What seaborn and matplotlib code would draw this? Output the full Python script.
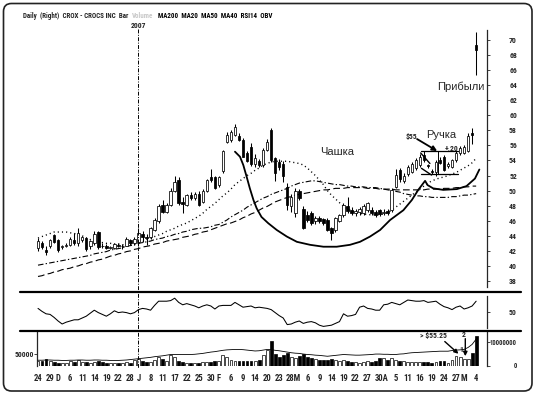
import numpy as np
import pandas as pd
import matplotlib
matplotlib.use("Agg")
import matplotlib.pyplot as plt
import seaborn as sns
from matplotlib import font_manager, transforms
from matplotlib.patches import FancyBboxPatch
from matplotlib.lines import Line2D

# ---------------- data ----------------
tick_labels = ["24", "29", "D", "6", "11", "14", "19", "22", "28", "J", "8", "11", "17", "22", "25",
               "30", "F", "6", "9", "14", "20", "23", "28M", "6", "9", "14", "19", "22", "27", "30A",
               "5", "11", "16", "19", "24", "27", "M", "4"]
tick_days = [0, 3, 5, 8, 11, 14, 17, 20, 23, 25, 28, 31, 34, 37, 40, 43, 45, 48, 51, 54, 57, 60, 63.5,
             67, 70, 73, 76, 79, 82, 85.5, 89, 92, 95, 98, 101, 104, 106, 109]

open_ = [42.4, 43.0, 42.1, 42.6, 44.1, 43.4, 42.5, 42.7, 42.8, 43.5,
         43.0, 43.5, 43.7, 42.6, 43.0, 44.5, 42.7, 42.6, 42.4, 42.4,
         42.8, 42.6, 42.7, 43.4, 43.0, 43.2, 44.3, 43.9, 43.8, 44.8,
         45.9, 48.1, 47.2, 48.1, 50.0, 51.4, 48.5, 48.1, 49.4, 49.0,
         49.6, 48.5, 50.0, 51.8, 51.8, 50.8, 52.6, 56.5, 56.7, 57.4,
         57.3, 56.7, 55.0, 55.8, 53.6, 53.9, 53.4, 55.4, 58.0, 54.3,
         53.8, 53.6, 50.5, 48.0, 47.0, 49.9, 47.6, 46.7, 47.0, 46.0,
         46.3, 46.2, 46.1, 45.0, 44.8, 46.0, 46.7, 47.9, 47.4, 47.0,
         47.1, 47.0, 47.4, 47.4, 47.1, 47.4, 47.0, 47.3, 47.4, 50.5,
         52.7, 51.3, 52.2, 52.5, 53.0, 53.4, 54.7, 53.4, 52.6, 52.5,
         54.0, 54.5, 53.3, 53.2, 54.0, 55.0, 55.0, 55.3, 57.6, 69.3]
high_ = [43.7, 43.3, 42.6, 43.6, 44.3, 43.6, 42.8, 43.0, 43.8, 44.4,
         45.0, 44.0, 43.9, 43.5, 44.6, 44.7, 43.0, 42.9, 42.6, 43.1,
         43.0, 42.9, 43.9, 43.6, 43.8, 45.0, 44.6, 44.2, 45.2, 46.3,
         48.2, 48.7, 48.3, 50.3, 52.0, 51.8, 49.2, 49.6, 49.8, 49.8,
         49.9, 50.2, 51.6, 52.9, 52.0, 52.0, 55.4, 57.8, 58.0, 58.8,
         57.6, 57.0, 55.3, 56.3, 54.8, 54.2, 55.6, 56.8, 58.3, 54.5,
         54.2, 53.9, 51.0, 49.5, 50.3, 50.2, 48.0, 47.3, 47.3, 46.6,
         46.6, 46.4, 46.4, 45.2, 46.5, 46.9, 48.3, 49.2, 47.8, 47.6,
         47.8, 48.2, 48.5, 47.8, 47.4, 47.6, 47.5, 47.6, 50.3, 52.9,
         53.0, 52.3, 53.4, 53.8, 54.3, 54.8, 55.2, 53.6, 52.9, 54.0,
         54.4, 54.7, 53.8, 54.2, 55.3, 55.9, 56.0, 57.6, 58.3, 71.1]
low_ = [42.0, 42.2, 41.5, 42.4, 43.0, 41.9, 42.2, 42.5, 42.6, 42.8,
        42.6, 43.2, 42.0, 42.3, 42.8, 42.3, 42.4, 42.2, 42.2, 42.2,
        42.5, 42.3, 42.6, 42.8, 42.8, 42.6, 43.2, 42.8, 43.6, 44.6,
        45.7, 47.0, 47.0, 47.9, 49.8, 48.1, 47.0, 47.9, 48.8, 48.8,
        47.9, 48.3, 49.8, 51.2, 50.2, 50.5, 52.4, 56.3, 56.5, 57.2,
        56.6, 54.4, 53.8, 53.3, 53.2, 53.1, 53.2, 55.2, 53.8, 51.3,
        52.8, 51.2, 47.4, 47.2, 46.5, 48.8, 44.9, 45.8, 45.5, 45.6,
        45.7, 45.4, 44.6, 43.5, 44.5, 45.8, 46.5, 47.0, 46.8, 46.6,
        46.8, 46.8, 47.2, 46.8, 46.5, 46.6, 46.7, 46.8, 47.2, 50.3,
        51.2, 51.0, 52.0, 52.3, 52.8, 53.2, 53.8, 53.0, 52.2, 52.0,
        53.5, 52.6, 53.0, 53.0, 53.8, 54.7, 54.8, 55.1, 56.2, 65.3]
close_ = [43.3, 42.5, 41.8, 43.4, 43.2, 42.1, 42.6, 42.8, 43.6, 43.0,
          44.4, 43.9, 42.2, 43.3, 44.3, 42.5, 42.6, 42.4, 42.5, 42.9,
          42.6, 42.7, 43.6, 43.0, 43.6, 44.4, 43.8, 43.7, 45.0, 46.1,
          47.9, 47.2, 48.1, 50.0, 51.2, 48.3, 48.2, 49.4, 49.0, 49.5,
          48.1, 50.0, 51.4, 51.4, 50.3, 51.8, 55.2, 57.4, 57.8, 58.5,
          56.7, 54.5, 53.9, 53.6, 54.3, 53.4, 55.4, 56.5, 54.1, 52.3,
          53.2, 51.9, 48.1, 49.2, 49.9, 49.0, 45.0, 46.1, 45.7, 46.3,
          45.9, 45.7, 44.8, 44.4, 46.3, 46.7, 48.1, 47.3, 47.0, 47.3,
          47.6, 47.9, 48.3, 47.0, 46.8, 46.9, 47.2, 47.0, 50.1, 52.1,
          51.6, 52.0, 53.2, 53.6, 54.1, 54.5, 54.0, 53.3, 52.5, 53.8,
          53.7, 52.7, 53.5, 54.0, 55.0, 55.6, 55.8, 57.3, 57.4, 68.7]

ma20 = [43.7, 43.9, 44.1, 44.3, 44.5, 44.5, 44.5, 44.5, 44.4, 44.3,
        44.2, 44.0, 43.7, 43.5, 43.3, 43.2, 43.1, 43.0, 43.0, 42.9,
        42.9, 42.8, 42.8, 42.9, 43.0, 43.0, 43.2, 43.5, 43.7, 43.9,
        44.1, 44.3, 44.6, 44.8, 45.0, 45.3, 45.5, 45.7, 46.0, 46.3,
        46.6, 47.0, 47.5, 47.9, 48.3, 48.8, 49.3, 49.7, 50.2, 50.8,
        51.2, 51.6, 52.0, 52.3, 52.7, 53.0, 53.4, 53.6, 53.8, 53.9,
        53.9, 53.9, 53.9, 53.8, 53.7, 53.6, 53.4, 53.0, 52.5, 52.0,
        51.4, 50.8, 50.0, 49.4, 48.9, 48.4, 47.9, 47.6, 47.3, 47.1,
        47.0, 46.9, 46.8, 46.8, 46.8, 46.8, 46.9, 47.1, 47.4, 47.8,
        48.2, 48.6, 49.0, 49.4, 49.8, 50.2, 50.6, 51.0, 51.3, 51.5,
        51.7, 51.8, 52.0, 52.2, 52.4, 52.7, 53.0, 53.3, 53.7, 54.3]
ma40 = [40.1, 40.2, 40.3, 40.4, 40.5, 40.6, 40.7, 40.8, 40.9, 41.0,
        41.1, 41.2, 41.3, 41.4, 41.6, 41.7, 41.8, 41.9, 42.1, 42.2,
        42.3, 42.4, 42.6, 42.7, 42.8, 43.0, 43.1, 43.2, 43.3, 43.5,
        43.6, 43.7, 43.9, 44.0, 44.2, 44.3, 44.5, 44.6, 44.8, 44.9,
        45.0, 45.0, 45.1, 45.2, 45.4, 45.5, 45.8, 46.1, 46.5, 46.8,
        47.1, 47.4, 47.8, 48.1, 48.4, 48.7, 49.0, 49.2, 49.5, 49.7,
        49.9, 50.1, 50.3, 50.6, 50.8, 51.0, 51.1, 51.2, 51.3, 51.3,
        51.2, 51.1, 51.0, 50.9, 50.8, 50.8, 50.7, 50.6, 50.6, 50.5,
        50.5, 50.5, 50.4, 50.4, 50.4, 50.3, 50.2, 50.1, 50.0, 49.9,
        49.8, 49.6, 49.5, 49.4, 49.3, 49.3, 49.2, 49.2, 49.1, 49.1,
        49.1, 49.1, 49.1, 49.2, 49.2, 49.3, 49.4, 49.4, 49.5, 49.6]
ma50 = [38.6, 38.7, 38.9, 39.0, 39.2, 39.3, 39.5, 39.6, 39.7, 39.9,
        40.0, 40.2, 40.3, 40.5, 40.6, 40.8, 40.9, 41.1, 41.3, 41.4,
        41.6, 41.7, 41.9, 42.0, 42.2, 42.3, 42.5, 42.6, 42.7, 42.9,
        43.0, 43.1, 43.3, 43.4, 43.5, 43.6, 43.8, 43.9, 44.0, 44.2,
        44.3, 44.5, 44.6, 44.8, 45.0, 45.2, 45.4, 45.6, 45.7, 45.9,
        46.1, 46.4, 46.6, 46.9, 47.1, 47.4, 47.7, 47.9, 48.2, 48.5,
        48.7, 48.9, 49.1, 49.2, 49.4, 49.5, 49.6, 49.7, 49.8, 49.9,
        50.0, 50.1, 50.1, 50.2, 50.3, 50.3, 50.3, 50.4, 50.4, 50.4,
        50.4, 50.4, 50.3, 50.3, 50.3, 50.2, 50.2, 50.2, 50.2, 50.1,
        50.1, 50.1, 50.1, 50.1, 50.1, 50.1, 50.1, 50.2, 50.2, 50.2,
        50.2, 50.3, 50.3, 50.3, 50.4, 50.4, 50.5, 50.5, 50.6, 50.6]

rsi14 = [56, 51, 47, 46, 41, 35, 30, 33, 35, 37,
         37, 40, 43, 48, 53, 49, 46, 43, 47, 52,
         49, 50, 49, 47, 49, 54, 56, 55, 53, 61,
         68, 68, 68, 69, 73, 66, 62, 64, 62, 60,
         57, 60, 62, 60, 55, 60, 61, 61, 61, 66,
         62, 58, 59, 60, 57, 58, 57, 56, 54, 49,
         44, 40, 29, 30, 33, 35, 31, 33, 34, 32,
         28, 26, 27, 28, 31, 34, 47, 43, 44, 46,
         58, 60, 56, 55, 53, 53, 62, 63, 66, 64,
         62, 66, 70, 69, 68, 68, 69, 66, 67, 68,
         63, 59, 57, 54, 58, 60, 55, 57, 60, 68]

vol_millions = [1.8, 2.0, 2.9, 2.0, 1.6, 1.2, 1.0, 1.1, 2.0, 1.5,
                2.2, 1.6, 1.3, 1.2, 1.6, 2.0, 1.4, 1.2, 1.0, 1.0,
                0.9, 1.0, 1.4, 1.2, 2.2, 2.9, 2.0, 1.6, 1.6, 2.4,
                3.5, 2.8, 2.0, 4.2, 3.4, 2.0, 1.5, 1.2, 1.0, 0.9,
                1.0, 1.3, 1.6, 1.6, 1.7, 1.8, 4.2, 3.5, 2.2, 2.0,
                1.8, 1.7, 1.9, 1.8, 2.0, 2.2, 4.3, 6.3, 10.3, 5.0,
                3.6, 4.3, 5.4, 3.6, 3.2, 3.9, 4.6, 3.4, 3.2, 2.6,
                2.4, 2.2, 2.4, 2.6, 2.2, 1.8, 2.4, 2.0, 1.6, 1.4,
                1.2, 1.6, 1.8, 1.4, 2.0, 3.2, 3.2, 2.2, 3.3, 2.4,
                2.0, 1.8, 1.6, 1.4, 1.3, 1.4, 1.6, 1.3, 1.2, 1.5,
                1.8, 1.7, 1.2, 2.4, 3.9, 3.6, 2.9, 2.9, 5.3, 12.5]

obv = [24000, 24000, 25000, 25000, 24000, 24000, 23000, 23000, 24000, 24000,
       25000, 25000, 24000, 24000, 25000, 25000, 24000, 24000, 23000, 23000,
       23000, 24000, 25000, 27000, 29000, 31000, 33000, 35000, 37000, 40000,
       42000, 44000, 47000, 50000, 50000, 50000, 50000, 50000, 50000, 51000,
       53000, 55000, 58000, 61000, 63000, 66000, 69000, 71000, 72000, 73000,
       73000, 72000, 70000, 68000, 66000, 67000, 70000, 73000, 72000, 69000,
       67000, 64000, 61000, 58000, 56000, 55000, 52000, 50000, 49000, 47000,
       46000, 44000, 42000, 44000, 46000, 48000, 50000, 49000, 48000, 47000,
       47000, 48000, 49000, 50000, 52000, 52000, 51000, 51000, 50000, 50000,
       52000, 53000, 56000, 58000, 59000, 60000, 61000, 62000, 63000, 64000,
       65000, 65000, 65000, 68000, 70000, 71000, 73000, 82000, 96000, 120000]

# hand-drawn annotation (cup & handle) read in day / price units
cup_days = [49.0, 50.25, 51.07, 51.9, 52.7, 53.6, 54.4, 55.6, 57.3, 59.4, 61.9, 64.4, 67.7, 71.0,
            74.3, 77.6, 80.1, 82.6, 85.1, 87.6, 90.9, 93.0, 94.6, 96.3, 96.9, 98.3, 100.8, 104.2,
            106.6, 108.7, 109.8]
cup_prices = [55.17, 54.5, 53.4, 51.85, 50.3, 48.75, 47.65, 46.5, 45.66, 44.77, 43.9, 43.2, 42.8,
              42.55, 42.55, 42.8, 43.2, 43.9, 44.77, 46.1, 47.4, 48.75, 50.1, 51.3, 50.74, 50.3,
              50.1, 50.2, 50.6, 51.6, 52.8]
handle_top = 55.2
handle_bottom = 52.2
handle_days = [95.3, 104.6]

# ---------------- style ----------------
sns.set_style("white")
avail = {f.name for f in font_manager.fontManager.ttflist}
narrow = None
for cand in ["Liberation Sans Narrow", "Arial Narrow", "Roboto Condensed", "Open Sans Condensed"]:
    if cand in avail:
        narrow = cand
        break
if narrow is None:
    narrow = "DejaVu Sans"
    plt.rcParams["font.stretch"] = "condensed"
regular = "Liberation Sans" if "Liberation Sans" in avail else "DejaVu Sans"
plt.rcParams["font.family"] = [narrow, "DejaVu Sans"]
plt.rcParams["axes.facecolor"] = "none"

df = pd.DataFrame({"day": np.arange(len(close_)), "open": open_, "high": high_, "low": low_,
                   "close": close_, "ma20": ma20, "ma40": ma40, "ma50": ma50, "rsi": rsi14,
                   "vol": np.array(vol_millions) * 1e6, "obv": obv})
up = df["close"] >= df["open"]

W, H = 540, 396
fig = plt.figure(figsize=(W / 100, H / 100), dpi=100)
fig.patch.set_facecolor("white")


def frame(x0, ytop, x1, ybot):
    return [x0 / W, 1 - ybot / H, (x1 - x0) / W, (ybot - ytop) / H]


ax_p = fig.add_axes(frame(20, 30, 487, 287))
ax_r = fig.add_axes(frame(20, 294, 487, 330))
ax_v = fig.add_axes(frame(20, 331, 487, 365.5))
XL = (-4.48, 111.7)
for a in (ax_p, ax_r, ax_v):
    a.set_xlim(*XL)
    for s in a.spines.values():
        s.set_visible(False)
    a.spines["right"].set_visible(True)
    a.spines["right"].set_linewidth(0.9)
    a.yaxis.tick_right()

# ---------------- price panel ----------------
body_w = 0.62
ax_p.vlines(df["day"], df["low"], df["high"], color="black", lw=0.75, zorder=3)
ax_p.bar(df["day"], (df["close"] - df["open"]).abs().clip(lower=0.06),
         bottom=df[["open", "close"]].min(axis=1), width=body_w,
         color=np.where(up, "white", "black"), edgecolor="black", lw=0.55, zorder=4)
sns.lineplot(data=df, x="day", y="ma20", ax=ax_p, color="black", lw=1.0,
             linestyle=(0, (0.8, 2.2)), errorbar=None, zorder=2)
sns.lineplot(data=df, x="day", y="ma40", ax=ax_p, color="black", lw=0.8,
             linestyle=(0, (5, 2, 1.2, 2)), errorbar=None, zorder=2)
sns.lineplot(data=df, x="day", y="ma50", ax=ax_p, color="black", lw=0.8,
             linestyle=(0, (6, 3)), errorbar=None, zorder=2)
ax_p.set_ylim(37.2, 71.33)
ax_p.set_yticks(range(38, 71, 2))
ax_p.set_xticks([])
ax_p.set_xlabel("")
ax_p.set_ylabel("")

# cup & handle annotation
ax_p.plot(cup_days, cup_prices, color="black", lw=1.3, zorder=6, solid_capstyle="round")
ax_p.plot(handle_days, [handle_top] * 2, color="black", lw=0.9, zorder=6)
ax_p.plot(handle_days, [handle_bottom] * 2, color="black", lw=0.9, zorder=6)
ax_p.plot([99.4, 99.4], [handle_bottom, handle_top], color="black", lw=0.7, zorder=6)
ax_p.plot([95.2, 97.5], [55.0, 53.6], color="black", lw=1.0, zorder=6)
ax_p.plot([95.4, 97.9], [52.96, 52.07], color="black", lw=1.0, zorder=6)
ax_p.annotate("", xy=(99.3, 55.26), xytext=(94.3, 56.85),
              arrowprops=dict(arrowstyle="-|>", color="black", lw=1.3, mutation_scale=7,
                              shrinkA=0, shrinkB=0), zorder=7)
ax_p.text(92.8, 57.15, "$55", fontsize=5.5, fontweight="bold", ha="center", va="center")
ax_p.text(103.0, 55.65, "+.20", fontsize=5.5, fontweight="bold", ha="center", va="center")
ax_p.text(100.4, 57.35, "Ручка", fontsize=8, family=[regular, "DejaVu Sans"], stretch="normal",
          ha="center", va="center")
ax_p.text(74.4, 55.1, "Чашка", fontsize=8, family=[regular, "DejaVu Sans"], stretch="normal",
          ha="center", va="center")
ax_p.text(105.2, 63.8, "Прибыли", fontsize=8, family=[regular, "DejaVu Sans"], stretch="normal",
          ha="center", va="center")

# ---------------- RSI panel ----------------
sns.lineplot(data=df, x="day", y="rsi", ax=ax_r, color="black", lw=0.75, errorbar=None)
ax_r.set_ylim(20, 80)
ax_r.set_yticks([50])
ax_r.spines["right"].set_bounds(24, 77)
ax_r.set_xticks([])
ax_r.set_xlabel("")
ax_r.set_ylabel("")

# ---------------- volume panel ----------------
ax_v.bar(df["day"], df["vol"], width=0.72, color=np.where(up, "white", "black"),
         edgecolor="black", lw=0.5, zorder=3)
ax_v.set_ylim(0, 14.4e6)
ax_o = ax_v.twinx()
for s in ax_o.spines.values():
    s.set_visible(False)
sns.lineplot(data=df, x="day", y="obv", ax=ax_o, color="black", lw=0.6, errorbar=None, zorder=4)
ax_o.set_ylim(0, 156800)
ax_o.set_xlim(*XL)
ax_o.yaxis.tick_left()
ax_o.spines["left"].set_visible(True)
ax_o.spines["left"].set_position(("data", -0.25))
ax_o.spines["left"].set_linewidth(0.9)
ax_o.set_yticks([50000])
ax_o.set_yticklabels(["50000"])
ax_o.set_ylabel("")
ax_o.tick_params(axis="y", length=2, width=0.6, pad=0.5, labelsize=5.5)
ax_v.yaxis.tick_right()
ax_v.set_yticks([0, 10000000])
ax_v.set_yticklabels(["0", "10000000"])
ax_v.set_xticks(tick_days)
ax_v.set_xticklabels(tick_labels)
ax_v.tick_params(axis="x", length=0, pad=6.0, labelsize=6.2)
ax_v.set_xlabel("")
ax_v.set_ylabel("")
for lbl in ax_v.get_xticklabels() + ax_o.get_yticklabels():
    lbl.set_fontweight("bold")

ax_v.text(98.4, 12.4e6, "> $55.25", fontsize=5.5, fontweight="bold", ha="center", va="center")
ax_v.annotate("", xy=(104.6, 4.9e6), xytext=(101.2, 10.0e6),
              arrowprops=dict(arrowstyle="-|>", color="black", lw=1.0, mutation_scale=6,
                              shrinkA=0, shrinkB=0), zorder=7)
ax_v.text(105.3, 6.6e6, "1", fontsize=5.5, fontweight="bold", ha="center", va="center")
ax_v.text(105.9, 13.0e6, "2", fontsize=5.5, fontweight="bold", ha="center", va="center")
ax_v.annotate("", xy=(106.3, 3.9e6), xytext=(106.3, 11.2e6),
              arrowprops=dict(arrowstyle="-|>", color="black", lw=1.0, mutation_scale=6,
                              shrinkA=0, shrinkB=0), zorder=7)

# right-axis tick labels (right aligned near the frame)
for a, size in ((ax_p, 5.6), (ax_r, 5.6), (ax_v, 4.8)):
    a.tick_params(axis="y", direction="out", length=2, width=0.6, pad=19.6, labelsize=size)
    for lbl in a.get_yticklabels():
        lbl.set_ha("right")
        lbl.set_fontweight("bold")

# ---------------- frame, separators, header ----------------
for yy in (292, 331):
    fig.add_artist(Line2D([20 / W, 521 / W], [1 - yy / H] * 2, transform=fig.transFigure,
                          color="black", lw=1.6))

year_day = tick_days[tick_labels.index("J")]
blend = transforms.blended_transform_factory(ax_p.transData, fig.transFigure)
fig.add_artist(Line2D([year_day, year_day], [1 - 29 / H, 1 - 368 / H], transform=blend,
                      color="black", lw=0.7, linestyle=(0, (4, 1.5, 1, 1.5))))
fig.text(year_day, 1 - 26.0 / H, "2007", transform=blend, fontsize=5.5, fontweight="bold",
         ha="center", va="center")

border = FancyBboxPatch((0.035, 0.05), 5.285, 3.875, boxstyle="round,pad=0,rounding_size=0.08",
                        transform=fig.dpi_scale_trans, fill=False, lw=1.2, ec="#222222")
fig.add_artist(border)

hdr = 5.0
t1 = fig.text(23 / W, 1 - 16 / H, "Daily  (Right)  CROX - CROCS INC  Bar", fontsize=hdr,
              fontweight="bold", va="center", ha="left")
t2 = ax_p.annotate("Volume", xy=(1, 0.5), xycoords=t1, xytext=(2.5, 0), textcoords="offset points",
                   fontsize=hdr, fontweight="bold", color="#c8c8c8", va="center", ha="left",
                   annotation_clip=False)
ax_p.annotate("MA200  MA20  MA50  MA40  RSI14  OBV", xy=(1, 0.5), xycoords=t2, xytext=(3.5, 0),
              textcoords="offset points", fontsize=hdr, fontweight="bold", color="black",
              va="center", ha="left", annotation_clip=False)

fig.savefig("out.png", dpi=100, facecolor="white")
